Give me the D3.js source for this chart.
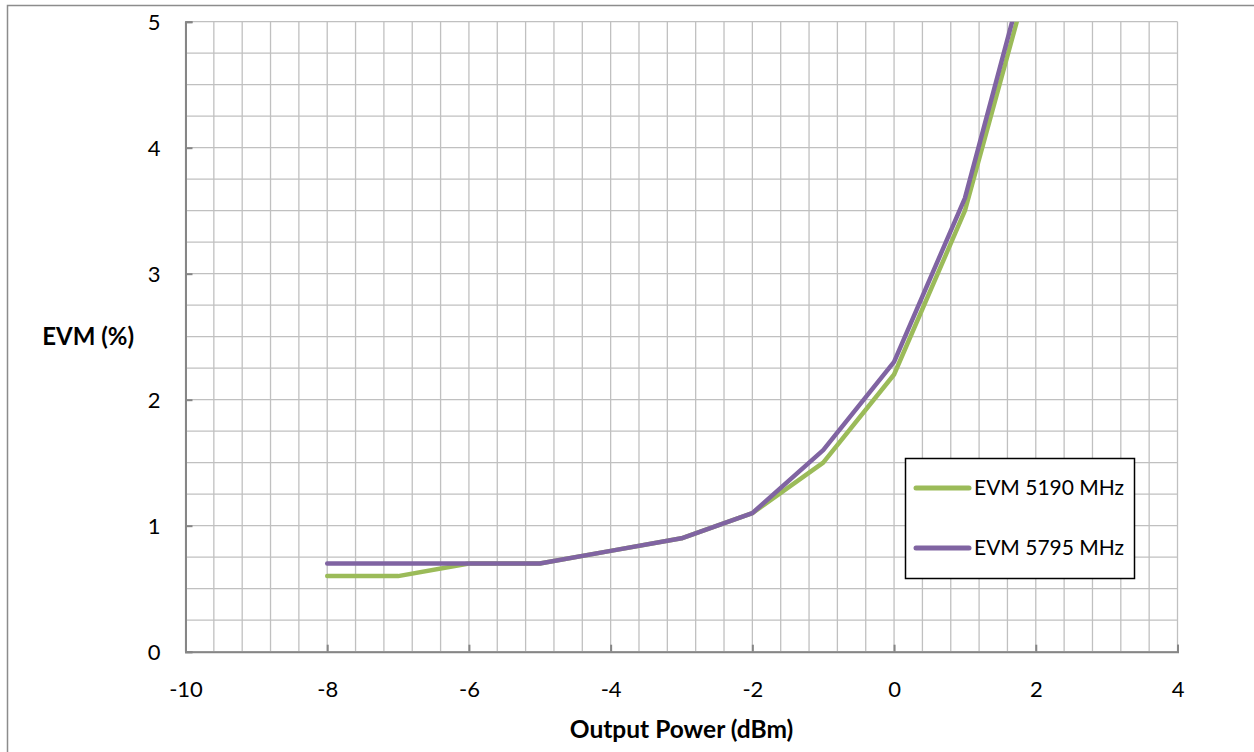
<!DOCTYPE html>
<html>
<head>
<meta charset="utf-8">
<script src="https://cdn.jsdelivr.net/npm/d3@7"></script>
<style>
  html, body { margin: 0; padding: 0; background: #fff; }
  svg { display: block; font-family: Lato, "Open Sans", sans-serif; }
</style>
</head>
<body>
<svg id="chart" width="1254" height="752"></svg>
<script>
// ---- data ----
const powerDbm = [-8, -7, -6, -5, -4, -3, -2, -1, 0, 1, 2];
const evm5190 = [0.6, 0.6, 0.7, 0.7, 0.8, 0.9, 1.1, 1.5, 2.2, 3.5, 5.55];
const evm5795 = [0.7, 0.7, 0.7, 0.7, 0.8, 0.9, 1.1, 1.6, 2.3, 3.6, 5.7];
const seriesNames = ["EVM 5190 MHz", "EVM 5795 MHz"];
const xTicks = [-10, -8, -6, -4, -2, 0, 2, 4];
const yTicks = [0, 1, 2, 3, 4, 5];
const xTitle = "Output Power (dBm)";
const yTitle = "EVM (%)";

const colors = ["#9BBB59", "#8064A2"];
const svg = d3.select("#chart");

// outer chart border (only top/left visible)
svg.append("rect").attr("x", 7.5).attr("y", 5.5).attr("width", 1300).attr("height", 800)
  .attr("fill", "#fff").attr("stroke", "#8c8c8c").attr("stroke-width", 1.5);

const L = 185.5, R = 1177.5, T = 21.7, B = 651.7;
const x = d3.scaleLinear().domain([-10, 4]).range([L, R]);
const y = d3.scaleLinear().domain([0, 5]).range([B, T]);

// gridlines (minor + major)
const xGrid = d3.range(-10, 4.0001, 0.4);
const yGrid = d3.range(0, 5.0001, 0.25);
const g = svg.append("g");
g.selectAll("line.vx").data(xGrid).join("line")
  .attr("x1", d => x(d)).attr("x2", d => x(d)).attr("y1", T).attr("y2", B)
  .attr("stroke", "#c0c0c0").attr("stroke-width", 1.3);
g.selectAll("line.hy").data(yGrid).join("line")
  .attr("x1", L).attr("x2", R).attr("y1", d => y(d)).attr("y2", d => y(d))
  .attr("stroke", "#c0c0c0").attr("stroke-width", 1.3);

// axes
const fmt = d => String(d);
const xAxis = d3.axisBottom(x).tickValues(xTicks).tickSize(-7).tickFormat(fmt);
const yAxis = d3.axisLeft(y).tickValues(yTicks).tickSize(-7).tickFormat(fmt);
const gx = svg.append("g").attr("transform", `translate(0,${B})`).call(xAxis);
const gy = svg.append("g").attr("transform", `translate(${L},0)`).call(yAxis);
[gx, gy].forEach(a => {
  a.select(".domain").attr("stroke", "#868686").attr("stroke-width", 2);
  a.selectAll(".tick line").attr("stroke", "#868686").attr("stroke-width", 2);
  a.selectAll(".tick text").attr("fill", "#000").attr("font-size", 22).attr("font-family", "Lato, sans-serif");
});
gx.selectAll(".tick text").attr("y", 38).attr("dy", "0.35em");
gy.selectAll(".tick text").attr("x", -25).attr("dy", "0.35em");

// axis titles
svg.append("text").attr("x", (L + R) / 2).attr("y", 729).attr("dy", "0.35em")
  .attr("text-anchor", "middle").attr("font-weight", "bold").attr("font-size", 24.5).text(xTitle);
svg.append("text").attr("x", 134).attr("y", 337).attr("dy", "0.35em")
  .attr("text-anchor", "end").attr("font-weight", "bold").attr("font-size", 24).text(yTitle);

// lines
svg.append("clipPath").attr("id", "clip").append("rect")
  .attr("x", L).attr("y", T).attr("width", R - L).attr("height", B - T);
const line = d3.line().x(d => x(d[0])).y(d => y(d[1]));
const series = [evm5190, evm5795];
svg.append("g").attr("clip-path", "url(#clip)").selectAll("path").data(series).join("path")
  .attr("d", s => line(powerDbm.map((p, i) => [p, s[i]])))
  .attr("fill", "none").attr("stroke", (d, i) => colors[i]).attr("stroke-width", 4.5)
  .attr("stroke-linejoin", "round").attr("stroke-linecap", "round");

// legend
const lg = svg.append("g");
lg.append("rect").attr("x", 905.5).attr("y", 458.5).attr("width", 229).attr("height", 120)
  .attr("fill", "#fff").attr("stroke", "#000").attr("stroke-width", 1.5);
seriesNames.forEach((n, i) => {
  const yy = 488 + i * 60;
  lg.append("line").attr("x1", 916).attr("x2", 969).attr("y1", yy).attr("y2", yy)
    .attr("stroke", colors[i]).attr("stroke-width", 5).attr("stroke-linecap", "round");
  lg.append("text").attr("x", 974).attr("y", yy).attr("dy", "0.35em")
    .attr("font-size", 21).attr("fill", "#000").text(n);
});
</script>
</body>
</html>
